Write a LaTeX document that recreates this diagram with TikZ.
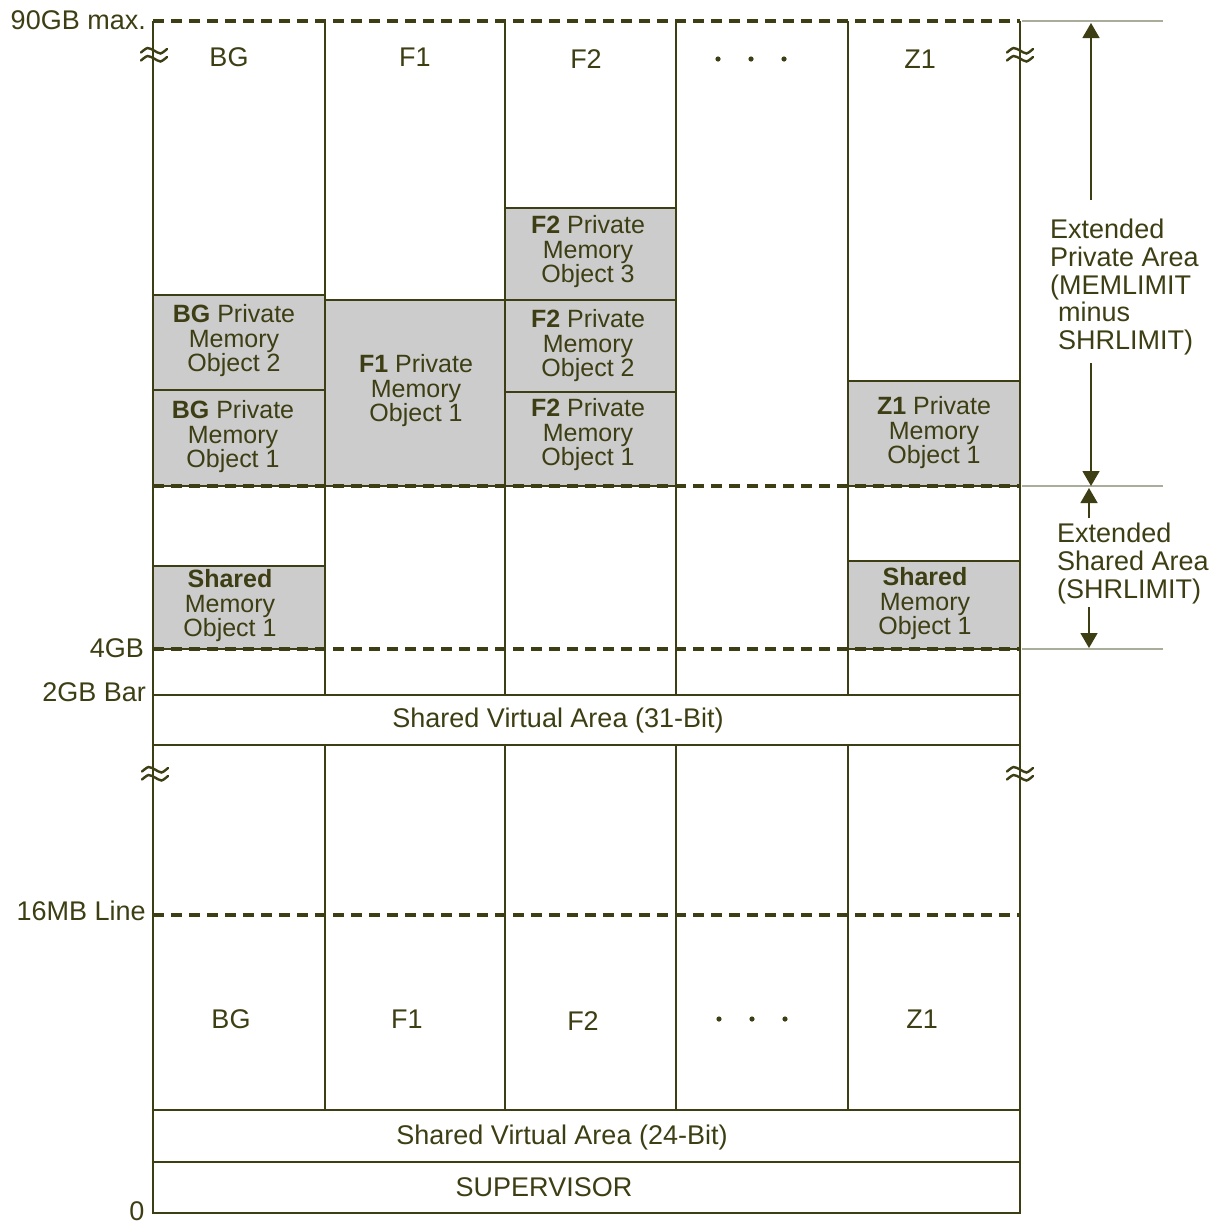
\documentclass[tikz,border=0pt]{standalone}
\usepackage{fontspec}
\setmainfont{Liberation Sans}
\usetikzlibrary{arrows.meta}
\definecolor{ink}{HTML}{3E3E14}
\definecolor{objfill}{HTML}{CCCCCC}
\definecolor{guide}{HTML}{A9AD9B}

\begin{document}
\begin{tikzpicture}[x=1pt,y=-1pt,
  gridline/.style={draw=ink, line width=2pt},
  limitline/.style={draw=ink, line width=3.2pt, dash pattern=on 11pt off 7pt},
  guideline/.style={draw=guide, line width=1.2pt},
  memobj/.style={fill=objfill, draw=ink, line width=2pt},
  objtext/.style={text=ink, align=center, font=\fontsize{25}{24.5}\selectfont, inner sep=0pt},
  coltext/.style={text=ink, font=\fontsize{27}{28}\selectfont, inner sep=0pt, text height=19.3pt, text depth=0pt},
  leveltext/.style={coltext, anchor=east},
  sidetext/.style={text=ink, align=left, font=\fontsize{27}{27.7}\selectfont, inner sep=0pt, anchor=north west},
  span/.style={draw=ink, line width=1.5pt, -{Triangle[width=17pt,length=15pt]}},
  brk/.style={draw=ink, line width=2.4pt, line cap=round},
  colldot/.style={fill=ink, draw=none}
]
\useasboundingbox (0,0) rectangle (1220,1224);
\fill[white] (0,0) rectangle (1220,1224);

% ---- memory objects (grey) ----
\path[memobj] (153,295) rectangle (325,390);
\path[memobj] (153,390) rectangle (325,486);
\path[memobj] (325,300) rectangle (505,486);
\path[memobj] (505,208) rectangle (676,300);
\path[memobj] (505,300) rectangle (676,392);
\path[memobj] (505,392) rectangle (676,486);
\path[memobj] (848,381) rectangle (1020,486);
\path[memobj] (153,566) rectangle (325,649);
\path[memobj] (848,561) rectangle (1020,649);

% ---- address space frame ----
\draw[gridline] (153,21) -- (153,1213) -- (1020,1213) -- (1020,21);
\foreach \cx in {325,505,676,848} {
  \draw[gridline] (\cx,21) -- (\cx,695);
  \draw[gridline] (\cx,745) -- (\cx,1110);
}
\foreach \ry in {695,745,1110,1162}
  \draw[gridline] (153,\ry) -- (1020,\ry);

% ---- limit lines ----
\foreach \ry in {21,486,649,915}
  \draw[limitline] (153,\ry) -- (1020,\ry);

% ---- guide lines at the right ----
\foreach \ry in {21,486,649}
  \draw[guideline] (1022,\ry) -- (1163,\ry);

% ---- break marks ----
\foreach \bx/\by in {154/55, 1020/55, 155/774, 1020/774} {
  \begin{scope}[shift={(\bx,\by)}]
    \draw[brk] plot[smooth] coordinates {(-13,-2.5) (-6.5,-7) (0,-4.5) (6.5,-1.5) (13,-6)};
    \draw[brk] plot[smooth] coordinates {(-13,5.5) (-6.5,1) (0,3.5) (6.5,6.5) (13,2)};
  \end{scope}
}

% ---- column headings ----
\node[coltext] (hbg) at (229,57) {BG};
\node[coltext] (hf1) at (415,57) {F1};
\node[coltext] (hf2) at (586,59) {F2};
\node[coltext] (hz1) at (920,59) {Z1};
\node[coltext] (lbg) at (231,1019) {BG};
\node[coltext] (lf1) at (407,1019) {F1};
\node[coltext] (lf2) at (583,1021) {F2};
\node[coltext] (lz1) at (922,1019) {Z1};
\foreach \dx in {718,751,784} {
  \fill[colldot] (\dx,59) circle (2.6);
  \fill[colldot] (\dx+1,1019) circle (2.6);
}

% ---- object labels ----
\node[objtext] (bg2) at (234,341) {\textbf{BG} Private\\Memory\\Object 2};
\node[objtext] (bg1) at (233,437) {\textbf{BG} Private\\Memory\\Object 1};
\node[objtext] (f1o) at (416,391) {\textbf{F1} Private\\Memory\\Object 1};
\node[objtext] (f2c) at (588,252) {\textbf{F2} Private\\Memory\\Object 3};
\node[objtext] (f2b) at (588,346) {\textbf{F2} Private\\Memory\\Object 2};
\node[objtext] (f2a) at (588,435) {\textbf{F2} Private\\Memory\\Object 1};
\node[objtext] (z1o) at (934,433) {\textbf{Z1} Private\\Memory\\Object 1};
\node[objtext] (shbg) at (230,606) {\textbf{Shared}\\Memory\\Object 1};
\node[objtext] (shz1) at (925,604) {\textbf{Shared}\\Memory\\Object 1};

% ---- shared areas and supervisor ----
\node[coltext] (sva31) at (558,718) {Shared Virtual Area (31-Bit)};
\node[coltext] (sva24) at (562,1135) {Shared Virtual Area (24-Bit)};
\node[coltext] (sup) at (544,1187) {SUPERVISOR};

% ---- levels ----
\node[leveltext] (l90) at (146,20) {90GB max.};
\node[leveltext] (l4) at (144,648) {4GB};
\node[leveltext] (l2) at (146,692) {2GB Bar};
\node[leveltext] (l16) at (146,911) {16MB Line};
\node[coltext] (l0) at (137,1211) {0};

% ---- extents ----
\node[sidetext] (epa) at (1050,219) {Extended\\Private Area\\(MEMLIMIT\\\hspace*{8pt}minus\\\hspace*{8pt}SHRLIMIT)};
\node[sidetext] (esa) at (1057,523) {Extended\\Shared Area\\(SHRLIMIT)};

\coordinate (epaUp) at (1091,200);
\coordinate (epaTop) at (1091,23);
\coordinate (epaLow) at (1091,363);
\coordinate (epaBot) at (1091,486);
\coordinate (esaUp) at (1089,518);
\coordinate (esaTop) at (1089,488);
\coordinate (esaLow) at (1089,607);
\coordinate (esaBot) at (1089,648);
\draw[span] (epaUp) -- (epaTop);
\draw[span] (epaLow) -- (epaBot);
\draw[span] (esaUp) -- (esaTop);
\draw[span] (esaLow) -- (esaBot);
\end{tikzpicture}
\end{document}
